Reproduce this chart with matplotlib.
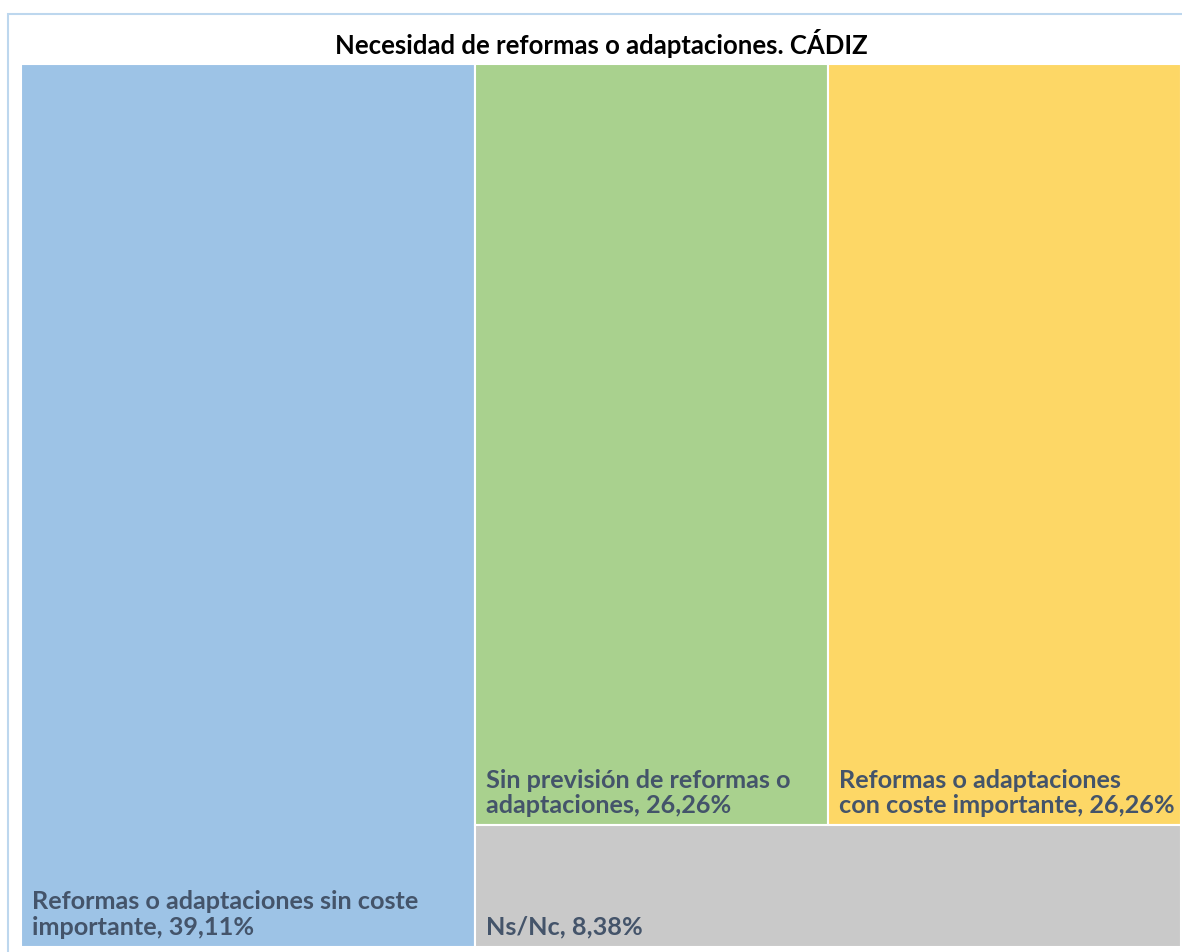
import matplotlib
matplotlib.use("Agg")
import matplotlib.pyplot as plt
from matplotlib.patches import Rectangle

# datos del treemap
labels = ["Reformas o adaptaciones sin coste\nimportante",
          "Sin previsión de reformas o\nadaptaciones",
          "Reformas o adaptaciones\ncon coste importante",
          "Ns/Nc"]
values = [39.11, 26.26, 26.26, 8.38]
value_txt = ["39,11%", "26,26%", "26,26%", "8,38%"]
colors = ["#9DC3E6", "#A9D18E", "#FDD766", "#C9C9C9"]

txt_color = "#44546A"
plt.rcParams['font.family'] = ['Lato', 'DejaVu Sans']

W, H = 1182, 952
fig = plt.figure(figsize=(W / 100, H / 100), dpi=100)

# marco exterior del grafico
fig.patches.append(Rectangle((8 / W, -0.1), 1.2, (H - 14) / H + 0.1,
                             transform=fig.transFigure, fill=False,
                             edgecolor="#BDD7EE", lw=1.5, zorder=0))

fig.text(601 / W, 1 - 43 / H, "Necesidad de reformas o adaptaciones. CÁDIZ",
         ha="center", va="center", fontsize=18.5, fontweight="bold", color="black")

ax = fig.add_axes([21 / W, 5 / H, 1160 / W, 883 / H])
ax.set_xlim(0, 1)
ax.set_ylim(0, 1)
ax.axis("off")

# layout: primera columna a toda altura, resto en una fila superior + fila inferior
total = sum(values)
w0 = values[0] / total
rest_w = 1 - w0
top_sum = values[1] + values[2]
h_top = top_sum / (top_sum + values[3])
rects = [
    (0, 0, w0, 1),
    (w0, 1 - h_top, rest_w * values[1] / top_sum, h_top),
    (w0 + rest_w * values[1] / top_sum, 1 - h_top, rest_w * values[2] / top_sum, h_top),
    (w0, 0, rest_w, 1 - h_top),
]

for (x, y, w, h), lab, vt, c in zip(rects, labels, value_txt, colors):
    ax.add_patch(Rectangle((x, y), w, h, facecolor=c, edgecolor="white", lw=1.5))
    ax.annotate(lab + ", " + vt, xy=(x, y), xytext=(8, 6), textcoords="offset points",
                ha="left", va="bottom", fontsize=18.2, fontweight="bold",
                color=txt_color, linespacing=1.12)

fig.savefig("out.png", dpi=100, facecolor="white")
